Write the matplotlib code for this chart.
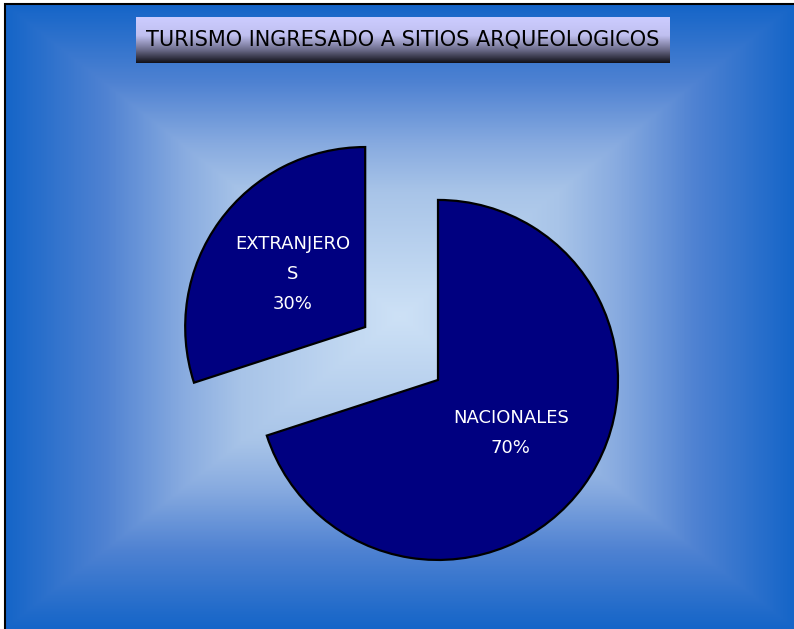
import numpy as np
import matplotlib.pyplot as plt
from matplotlib.colors import LinearSegmentedColormap
from matplotlib.patches import Rectangle

# Visitors to archaeological sites by origin (%)
categories = ['NACIONALES', 'EXTRANJERO\nS']
shares = [70, 30]
title = 'TURISMO INGRESADO A SITIOS ARQUEOLOGICOS'

W, H = 794, 629
R = 180
fig = plt.figure(figsize=(W / 100, H / 100), dpi=100, facecolor='white')
ax = fig.add_axes([0, 0, 1, 1])

# rectangular "from centre" gradient behind everything
nx, ny = 400, 320
xx, yy = np.meshgrid(np.linspace(-1, 1, nx), np.linspace(-1, 1, ny))
box = np.maximum(np.abs(xx), np.abs(yy))
bg_cmap = LinearSegmentedColormap.from_list(
    'bg', [(0, '#cde1f6'), (0.4, '#a8c4e8'), (0.55, '#88abe0'),
           (0.75, '#4f82d2'), (1, '#1565c8')], N=256)
ax.imshow(box, cmap=bg_cmap, extent=(5, W + 1, 0, H - 4), aspect='auto',
          interpolation='bilinear', zorder=0)
ax.add_patch(Rectangle((5, -2), W, H - 2, fill=False, edgecolor='black',
                       linewidth=1.5, zorder=5))

# exploded pie (explode is in data units here, so scale by radius)
wedges, texts = ax.pie(
    shares,
    labels=[f'{c}\n{v}%' for c, v in zip(categories, shares)],
    startangle=90,
    counterclock=False,
    explode=[0.25 * R, 0.25 * R],
    center=(401.6, H - 353.5),
    radius=R,
    colors=['#000080', '#000080'],
    labeldistance=0.5,
    wedgeprops=dict(edgecolor='black', linewidth=1.6),
    textprops=dict(color='white', fontsize=13, ha='center', va='center',
                   linespacing=1.85),
)

# title box with vertical gradient
tx0, tx1, ty0, ty1 = 136, 670, H - 63, H - 17
title_cmap = LinearSegmentedColormap.from_list(
    'title', [(0, '#ccccff'), (0.4, '#c0c0f0'), (0.72, '#6a6a88'), (1, '#12121a')])
grad = np.linspace(0, 1, 100).reshape(-1, 1)
ax.imshow(grad, cmap=title_cmap, extent=(tx0, tx1, ty0, ty1), aspect='auto',
          origin='upper', zorder=3)
ax.text((tx0 + tx1) / 2, (ty0 + ty1) / 2 + 1, title, ha='center', va='center',
        fontsize=15, color='black', zorder=4)

ax.set_xlim(0, W)
ax.set_ylim(0, H)
ax.set_aspect('auto')
ax.axis('off')

fig.savefig('out.png', dpi=100, facecolor=fig.get_facecolor())
